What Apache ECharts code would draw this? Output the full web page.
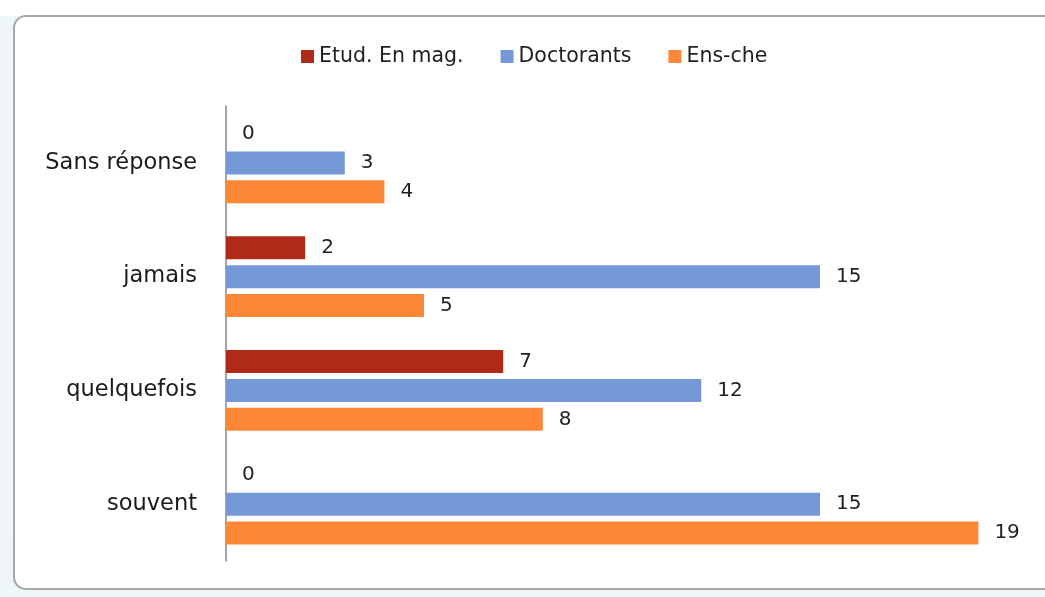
<!DOCTYPE html>
<html>
<head>
<meta charset="utf-8">
<script src="https://cdn.jsdelivr.net/npm/echarts@6/dist/echarts.min.js"></script>
<style>
  html, body { margin: 0; padding: 0; background: #fff; }
  #chart { width: 1045px; height: 597px; }
</style>
</head>
<body>
<div id="chart"></div>
<script>
// catégories, du bas vers le haut
var categories = ["souvent", "quelquefois", "jamais", "Sans réponse"];
var seriesNames = ["Etud. En mag.", "Doctorants", "Ens-che"];
var etudData = [0, 7, 2, 0];
var doctData = [15, 12, 15, 3];
var enscheData = [19, 8, 5, 4];

var colors = ["#B02A18", "#7598D7", "#FE8737"];
var font = "DejaVu Sans";

var chart = echarts.init(document.getElementById("chart"));

function barSeries(name, data, color) {
  return {
    name: name,
    type: "bar",
    data: data,
    barWidth: 23,
    barGap: "26%",
    itemStyle: { color: color },
    label: {
      show: true,
      position: "right",
      distance: 16,
      fontFamily: font,
      fontSize: 20,
      color: "#1f1f1f"
    }
  };
}

chart.setOption({
  animation: false,
  color: colors,
  graphic: [
    // fond du tableur + cadre arrondi
    { type: "rect", z: -10, shape: { x: 0, y: 16, width: 1045, height: 581 }, style: { fill: "#EEF6F7" } },
    { type: "rect", z: -9, shape: { x: 14, y: 16, width: 1045, height: 573, r: 12 },
      style: { fill: "#fff", stroke: "#A8A8A8", lineWidth: 2 } }
  ],
  legend: {
    data: seriesNames,
    left: 296,
    top: 41,
    icon: "rect",
    itemWidth: 13,
    itemHeight: 13,
    itemGap: 37,
    textStyle: { fontFamily: font, fontSize: 20.5, color: "#1f1f1f" }
  },
  grid: { left: 226, right: 27, top: 106, bottom: 36 },
  xAxis: {
    type: "value",
    min: 0,
    max: 20,
    axisLine: { show: false },
    axisTick: { show: false },
    axisLabel: { show: false },
    splitLine: { show: false }
  },
  yAxis: {
    type: "category",
    data: categories,
    axisLine: { show: true, lineStyle: { color: "#868686", width: 1.5 } },
    axisTick: { show: false },
    axisLabel: { margin: 29, fontFamily: font, fontSize: 22.5, color: "#1a1a1a" }
  },
  series: [
    barSeries(seriesNames[0], etudData, colors[0]),
    barSeries(seriesNames[1], doctData, colors[1]),
    barSeries(seriesNames[2], enscheData, colors[2])
  ]
});
</script>
</body>
</html>
